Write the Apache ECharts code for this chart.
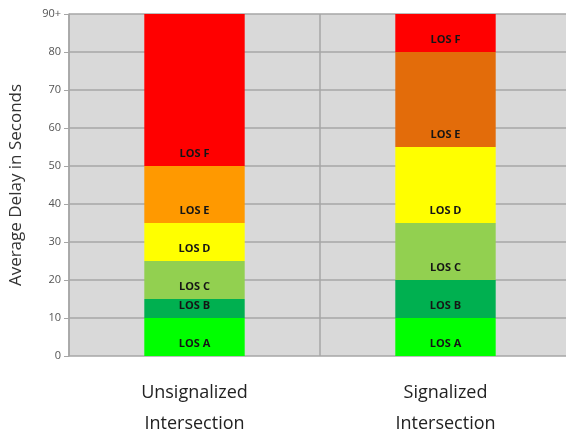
<!DOCTYPE html>
<html>
<head>
<meta charset="utf-8">
<script src="https://cdn.jsdelivr.net/npm/echarts@6/dist/echarts.min.js"></script>
<style>
  html, body { margin: 0; padding: 0; background: #ffffff; }
  #chart { width: 566px; height: 434px; }
</style>
</head>
<body>
<div id="chart"></div>
<script>
// Intersection types along the x axis
const categories = ['Unsignalized\nIntersection', 'Signalized\nIntersection'];
// Level-of-service bands, stacked from the bottom
const losLevels = ['LOS A', 'LOS B', 'LOS C', 'LOS D', 'LOS E', 'LOS F'];
// Height of each band in seconds of delay (band upper limit minus lower limit)
const unsignalizedBands = [10, 5, 10, 10, 15, 40];
const signalizedBands = [10, 10, 15, 20, 25, 10];
// Y axis tick values; the top one is shown as "90+"
const yTicks = [0, 10, 20, 30, 40, 50, 60, 70, 80, 90];
const yTopLabel = '90+';

// Band fill colours: [unsignalized, signalized]
const bandColors = [
  ['#00ff00', '#00ff00'],
  ['#00b050', '#00b050'],
  ['#92d050', '#92d050'],
  ['#ffff00', '#ffff00'],
  ['#ff9900', '#e36c0a'],
  ['#ff0000', '#ff0000']
];

const chart = echarts.init(document.getElementById('chart'), null, { renderer: 'canvas' });

const series = losLevels.map((name, i) => ({
  name: name,
  type: 'bar',
  stack: 'los',
  barWidth: '40%',
  data: [
    { value: unsignalizedBands[i], itemStyle: { color: bandColors[i][0] } },
    { value: signalizedBands[i], itemStyle: { color: bandColors[i][1] } }
  ],
  label: {
    show: true,
    position: 'insideBottom',
    distance: 7,
    formatter: name,
    color: '#151515',
    fontFamily: 'Open Sans',
    fontWeight: 'bold',
    fontSize: 11
  },
  emphasis: { disabled: true }
}));

chart.setOption({
  animation: false,
  backgroundColor: '#ffffff',
  grid: {
    left: 69, right: -5, top: 14, bottom: 78,
    outerBoundsMode: 'none',
    containLabel: false,
    show: true,
    backgroundColor: '#d9d9d9',
    borderWidth: 0
  },
  xAxis: {
    type: 'category',
    data: categories,
    axisLine: { show: false },
    axisTick: { show: false },
    splitLine: { show: true, lineStyle: { color: '#a6a6a6', width: 1.5 } },
    axisLabel: {
      margin: 21,
      fontFamily: 'Open Sans',
      fontSize: 18,
      lineHeight: 31,
      color: '#222222'
    }
  },
  yAxis: {
    type: 'value',
    min: yTicks[0],
    max: yTicks[yTicks.length - 1],
    interval: yTicks[1] - yTicks[0],
    name: 'Average Delay in Seconds',
    nameLocation: 'middle',
    nameGap: 44,
    nameTextStyle: { fontFamily: 'Open Sans', fontSize: 17, color: '#333333' },
    axisLine: { show: true, lineStyle: { color: '#a6a6a6', width: 1.5 } },
    axisTick: { show: true, length: 5, lineStyle: { color: '#a6a6a6' } },
    splitLine: { show: true, lineStyle: { color: '#a6a6a6', width: 1.5 } },
    axisLabel: {
      margin: 8,
      fontFamily: 'Open Sans',
      fontSize: 11,
      color: '#555555',
      formatter: v => (v === yTicks[yTicks.length - 1] ? yTopLabel : String(v))
    }
  },
  series: series
});
</script>
</body>
</html>
